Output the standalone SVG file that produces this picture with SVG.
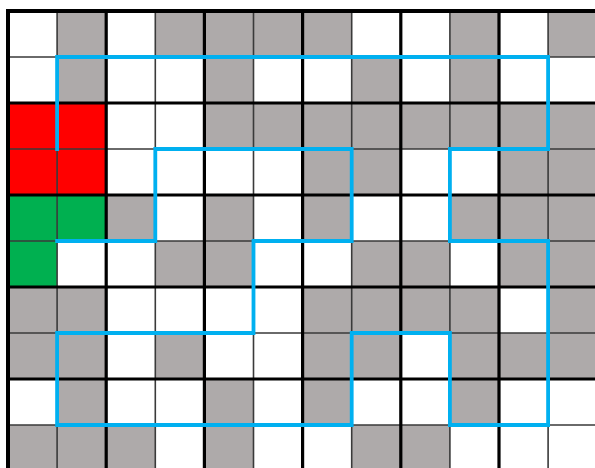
<svg xmlns="http://www.w3.org/2000/svg" width="595" height="468" viewBox="0 0 595 468">
<style>
.g{fill:#AEAAAA}
.r{fill:#FF0000}
.gr{fill:#00B050}
.thin{stroke:#3a3a3a;stroke-width:1.6;fill:none}
.thick{stroke:#000;stroke-width:3.2;fill:none}
.path{stroke:#00B0F0;stroke-width:3.8;fill:none;stroke-linejoin:miter;stroke-linecap:square}
</style>
<rect width="595" height="468" fill="#fff"/>
<g id="cells">
<g id="row0">
<rect class="g" x="57.1" y="11" width="49.1" height="46"/>
<rect class="g" x="155.3" y="11" width="196.4" height="46"/>
<rect class="g" x="449.9" y="11" width="49.1" height="46"/>
<rect class="g" x="548.1" y="11" width="49.1" height="46"/>
</g>
<g id="row1">
<rect class="g" x="57.1" y="57" width="49.1" height="46"/>
<rect class="g" x="204.4" y="57" width="49.1" height="46"/>
<rect class="g" x="351.7" y="57" width="49.1" height="46"/>
<rect class="g" x="449.9" y="57" width="49.1" height="46"/>
</g>
<g id="row2">
<rect class="g" x="204.4" y="103" width="392.8" height="46"/>
</g>
<g id="row3">
<rect class="g" x="302.6" y="149" width="98.2" height="46"/>
<rect class="g" x="499" y="149" width="98.2" height="46"/>
</g>
<g id="row4">
<rect class="g" x="106.2" y="195" width="49.1" height="46"/>
<rect class="g" x="204.4" y="195" width="49.1" height="46"/>
<rect class="g" x="302.6" y="195" width="49.1" height="46"/>
<rect class="g" x="449.9" y="195" width="147.3" height="46"/>
</g>
<g id="row5">
<rect class="g" x="155.3" y="241" width="98.2" height="46"/>
<rect class="g" x="351.7" y="241" width="98.2" height="46"/>
<rect class="g" x="499" y="241" width="98.2" height="46"/>
</g>
<g id="row6">
<rect class="g" x="8" y="287" width="98.2" height="46"/>
<rect class="g" x="302.6" y="287" width="196.4" height="46"/>
<rect class="g" x="548.1" y="287" width="49.1" height="46"/>
</g>
<g id="row7">
<rect class="g" x="8" y="333" width="98.2" height="46"/>
<rect class="g" x="155.3" y="333" width="49.1" height="46"/>
<rect class="g" x="302.6" y="333" width="98.2" height="46"/>
<rect class="g" x="449.9" y="333" width="147.3" height="46"/>
</g>
<g id="row8">
<rect class="g" x="57.1" y="379" width="49.1" height="46"/>
<rect class="g" x="204.4" y="379" width="49.1" height="46"/>
<rect class="g" x="302.6" y="379" width="49.1" height="46"/>
<rect class="g" x="449.9" y="379" width="49.1" height="46"/>
</g>
<g id="row9">
<rect class="g" x="8" y="425" width="147.3" height="46"/>
<rect class="g" x="204.4" y="425" width="49.1" height="46"/>
<rect class="g" x="351.7" y="425" width="98.2" height="46"/>
</g>
<g id="red-block">
<rect class="r" x="8" y="103" width="98.2" height="92"/>
</g>
<g id="green-block">
<rect class="gr" x="8" y="195" width="98.2" height="46"/>
<rect class="gr" x="8" y="241" width="49.1" height="46"/>
</g>
</g>
<g id="grid">
<path class="thin" d="M57.1 11V468M155.3 11V468M253.5 11V468M351.7 11V468M449.9 11V468M548.1 11V468M8 57H595M8 149H595M8 241H595M8 333H595M8 425H595"/>
<path class="thick" d="M106.2 11V468M204.4 11V468M302.6 11V468M400.8 11V468M499 11V468M8 103H595M8 195H595M8 287H595M8 379H595"/>
<path d="M8 9V468M6 11H595" stroke="#000" stroke-width="4" fill="none"/>
</g>
<g id="connectors">
<path class="path" d="M57.1 149V57H548.1V149H449.9V241H548.1V425H449.9V333H351.7V425H57.1V333H253.5V241H351.7V149H155.3V241H57.1"/>
</g>
</svg>
